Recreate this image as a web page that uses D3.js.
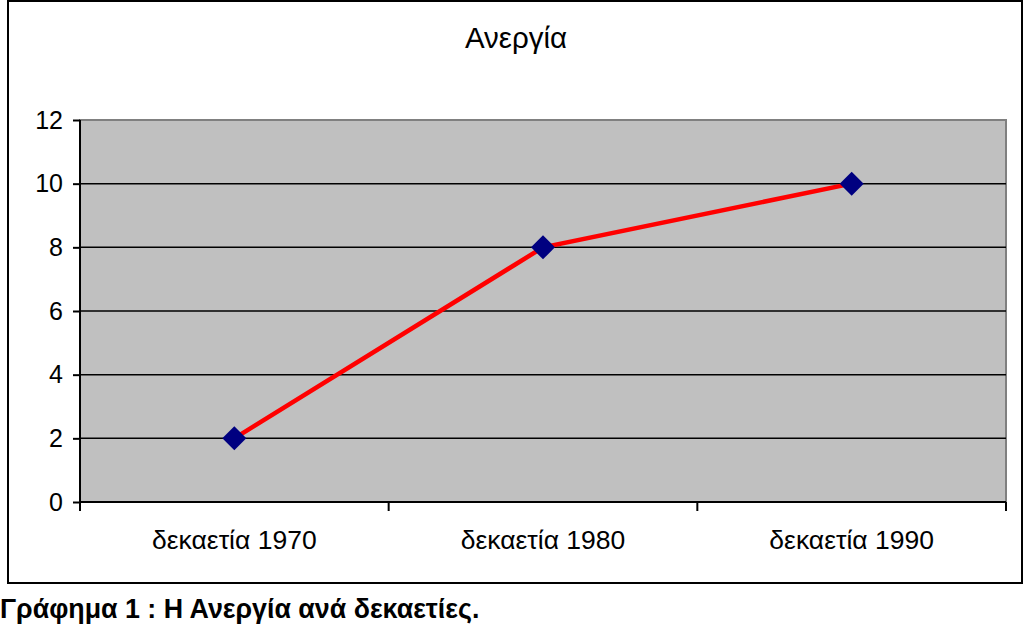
<!DOCTYPE html>
<html><head><meta charset="utf-8">
<script src="https://cdn.jsdelivr.net/npm/d3@7"></script>
<style>body{margin:0;background:#fff}svg{display:block}text{font-family:"Liberation Sans",Arial,sans-serif}</style>
</head><body>
<svg id="c" width="1024" height="624"></svg>
<script>
const categories = ["δεκαετία 1970", "δεκαετία 1980", "δεκαετία 1990"];
const values = [2, 8, 10];
const yTicks = [0, 2, 4, 6, 8, 10, 12];
const title = "Ανεργία";
const caption = "Γράφημα 1 : Η Ανεργία ανά δεκαετίες.";

const svg = d3.select("#c");
const L = 80, R = 1006, T = 120, B = 502;
const x = d3.scaleBand().domain(categories).range([L, R]);
const y = d3.scaleLinear().domain([0, 12]).range([B, T]);

// outer frame
svg.append("rect").attr("x", 8).attr("y", 1).attr("width", 1014).attr("height", 582)
  .attr("fill", "#fff").attr("stroke", "#000").attr("stroke-width", 2);

// plot area
svg.append("rect").attr("x", L).attr("y", T).attr("width", R - L).attr("height", B - T)
  .attr("fill", "#C0C0C0").attr("stroke", "#808080").attr("stroke-width", 2);

// gridlines
svg.append("g").selectAll("line").data(yTicks.filter(d => d > 0 && d < 12)).join("line")
  .attr("x1", L).attr("x2", R).attr("y1", d => y(d)).attr("y2", d => y(d))
  .attr("stroke", "#000").attr("stroke-width", 1.5);

// y axis
const ya = svg.append("g").attr("transform", `translate(${L},0)`)
  .call(d3.axisLeft(y).tickValues(yTicks).tickSize(7).tickPadding(10));
ya.select(".domain").attr("stroke", "#000").attr("stroke-width", 2).attr("d", `M0,${T}V${B}`);
ya.selectAll(".tick line").attr("stroke", "#000").attr("stroke-width", 2);
ya.selectAll("text").attr("font-size", 25).attr("fill", "#000")
  .attr("font-family", "'Liberation Sans',Arial,sans-serif");

// x axis
const xa = svg.append("g").attr("transform", `translate(0,${B})`)
  .call(d3.axisBottom(x).tickSize(0).tickPadding(28));
xa.select(".domain").attr("stroke", "#000").attr("stroke-width", 2).attr("d", `M${L},0H${R}`);
xa.selectAll("text").attr("font-size", 26.5).attr("fill", "#000")
  .attr("font-family", "'Liberation Sans',Arial,sans-serif");
// x category boundary ticks
const bounds = categories.map(c => x(c)).concat([x(categories[categories.length-1]) + x.bandwidth()]);
svg.append("g").selectAll("line").data(bounds).join("line")
  .attr("x1", d => d).attr("x2", d => d).attr("y1", B).attr("y2", B + 9)
  .attr("stroke", "#000").attr("stroke-width", 2);

// line
const cx = d => x(d) + x.bandwidth() / 2;
svg.append("path").datum(categories.map((c, i) => [cx(c), y(values[i])]))
  .attr("d", d3.line()).attr("fill", "none").attr("stroke", "#FF0000").attr("stroke-width", 4.5);

// markers
svg.append("g").selectAll("path").data(categories).join("path")
  .attr("transform", (c, i) => `translate(${cx(c)},${y(values[i])})`)
  .attr("d", "M0,-12L12,0L0,12L-12,0Z").attr("fill", "#000080");

// title
svg.append("text").attr("x", 516).attr("y", 48).attr("text-anchor", "middle")
  .attr("font-size", 29.5).attr("fill", "#000").text(title);

// caption
svg.append("text").attr("x", 0).attr("y", 618).attr("font-size", 26.8).attr("font-weight", "bold")
  .attr("fill", "#000").text(caption);
</script>
</body></html>
